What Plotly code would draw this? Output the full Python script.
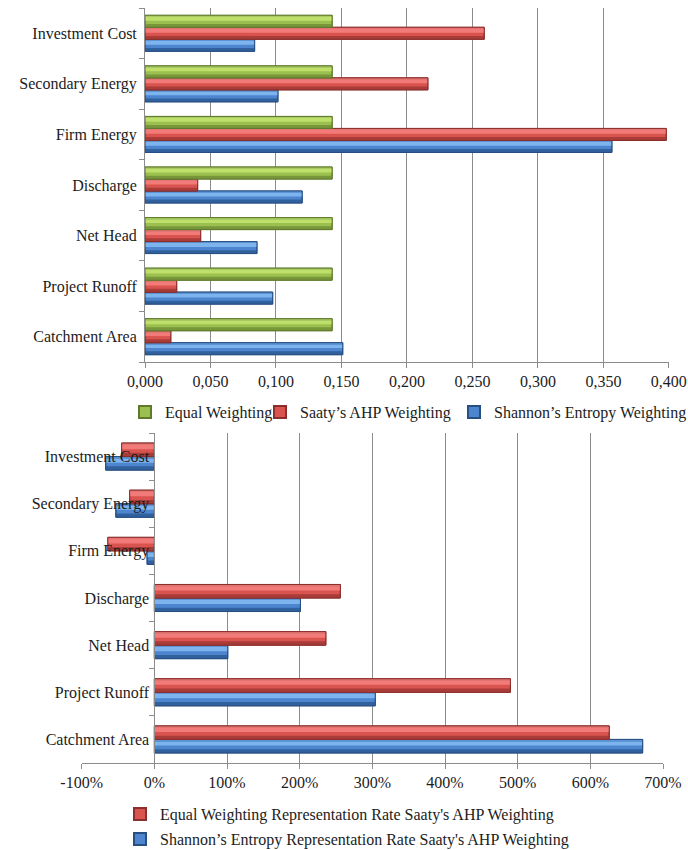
import plotly.graph_objects as go

# Criteria, listed bottom to top as they appear on the category axes
categories = ["Catchment Area", "Project Runoff", "Net Head", "Discharge",
              "Firm Energy", "Secondary Energy", "Investment Cost"]

# Criterion weights
equal_weighting = [0.1429, 0.1429, 0.1429, 0.1429, 0.1429, 0.1429, 0.1429]
saaty_ahp_weighting = [0.0197, 0.0242, 0.0425, 0.0402, 0.3980, 0.2160, 0.2590]
shannon_entropy_weighting = [0.1510, 0.0975, 0.0855, 0.1200, 0.3565, 0.1015, 0.0837]

# Representation rates relative to Saaty's AHP weighting (percent)
equal_rep_rate = [626, 490, 236, 256, -64, -34, -45]
shannon_rep_rate = [672, 304, 101, 201, -10, -53, -67]

# Tick labels
top_tick_vals = [0, 0.05, 0.10, 0.15, 0.20, 0.25, 0.30, 0.35, 0.40]
top_tick_text = ["0,000", "0,050", "0,100", "0,150", "0,200", "0,250", "0,300", "0,350", "0,400"]
bottom_tick_vals = [-100, 0, 100, 200, 300, 400, 500, 600, 700]
bottom_tick_text = ["-100%", "0%", "100%", "200%", "300%", "400%", "500%", "600%", "700%"]

# Bevel-like shading: (top highlight, light, mid, dark, outline)
GREEN = ("#a9c964", "#bedf6a", "#9cc04f", "#78963a", "#5f7a2c")
RED = ("#e27572", "#f27a78", "#d9534f", "#a93c39", "#8a2f2d")
BLUE = ("#5d94d6", "#7db4ee", "#4d86cf", "#30609e", "#284f82")

FONT = "Liberation Serif"
TEXT = "#1c1c1c"
GRID = "#8c8c8c"

W, H = 688, 850
fig = go.Figure()


def add_series(values, xaxis, yaxis, offset, width, shades, name, legend):
    """Draw one bar series as stacked shading bands plus an outline."""
    top_hl, light, mid, dark, outline = shades
    common = dict(x=values, y=categories, orientation="h",
                  xaxis=xaxis, yaxis=yaxis, hoverinfo="skip")
    # base fill (carries the legend entry)
    fig.add_trace(go.Bar(**common, name=name, legend=legend, showlegend=True,
                         offset=offset, width=width,
                         marker=dict(color=mid, line=dict(color=outline, width=1))))
    bands = [(0.0, 0.28, dark), (0.55, 0.33, light), (0.88, 0.12, top_hl)]
    for start, frac, col in bands:
        fig.add_trace(go.Bar(**common, showlegend=False,
                             offset=offset + width * start, width=width * frac,
                             marker=dict(color=col, line=dict(width=0))))
    # outline on top
    fig.add_trace(go.Bar(**common, showlegend=False, offset=offset, width=width,
                         marker=dict(color="rgba(0,0,0,0)",
                                     line=dict(color=outline, width=1))))


# Top chart: weights (blue lowest in each group, green on top)
bw = 0.237
add_series(shannon_entropy_weighting, "x", "y", -1.5 * bw, bw, BLUE,
           "Shannon\u2019s Entropy Weighting", "legend3")
add_series(saaty_ahp_weighting, "x", "y", -0.5 * bw, bw, RED,
           "Saaty\u2019s AHP Weighting", "legend2")
add_series(equal_weighting, "x", "y", 0.5 * bw, bw, GREEN,
           "Equal Weighting", "legend")

# Bottom chart: representation rates
bw2 = 0.287
add_series(shannon_rep_rate, "x2", "y2", -bw2, bw2, BLUE,
           "Shannon\u2019s Entropy Representation Rate Saaty's AHP Weighting", "legend5")
add_series(equal_rep_rate, "x2", "y2", 0.0, bw2, RED,
           "Equal Weighting Representation Rate Saaty's AHP Weighting", "legend4")

tick_font = dict(family=FONT, size=16, color=TEXT)

top_dom_x = [145 / W, 669 / W]
top_dom_y = [1 - 362 / H, 1 - 8 / H]
bot_range = [-100, 700]
bot_dom_x = [81.7 / W, 663 / W]
bot_dom_y = [1 - 763 / H, 1 - 433 / H]
# vertical axis of the lower chart sits at the 0% position
zero_pos = bot_dom_x[0] + (0 - bot_range[0]) / (bot_range[1] - bot_range[0]) * (bot_dom_x[1] - bot_dom_x[0])

legend_base = dict(font=dict(family=FONT, size=16, color=TEXT), bgcolor="rgba(0,0,0,0)",
                   borderwidth=0, orientation="h", xanchor="left", yanchor="middle",
                   itemsizing="constant")
LEG_OFF = 40  # distance from legend box edge to the start of its text

axis_common = dict(tickfont=tick_font, zeroline=False, automargin=False,
                   showline=True, linecolor=GRID, linewidth=1,
                   ticks="outside", ticklen=5, tickcolor=GRID)

fig.update_layout(
    width=W, height=H,
    margin=dict(l=0, r=0, t=0, b=0, autoexpand=False),
    paper_bgcolor="white", plot_bgcolor="white",
    barmode="overlay",
    font=dict(family=FONT, size=16, color=TEXT),
    xaxis=dict(axis_common, domain=top_dom_x, anchor="y", range=[0, 0.4001],
               tickvals=top_tick_vals, ticktext=top_tick_text,
               showgrid=True, gridcolor=GRID, gridwidth=1),
    yaxis=dict(axis_common, domain=top_dom_y, anchor="x", type="category",
               categoryorder="array", categoryarray=categories,
               showgrid=False, tickson="boundaries", ticklabelstandoff=4),
    xaxis2=dict(axis_common, domain=bot_dom_x, anchor="y2", range=bot_range,
                tickvals=bottom_tick_vals, ticktext=bottom_tick_text,
                showgrid=True, gridcolor=GRID, gridwidth=1),
    yaxis2=dict(axis_common, domain=bot_dom_y, anchor="free", position=zero_pos,
                type="category", categoryorder="array", categoryarray=categories,
                showgrid=False, tickson="boundaries", ticklabelstandoff=2),
    legend=dict(legend_base, x=(165 - LEG_OFF) / W, y=1 - 412 / H),
    legend2=dict(legend_base, x=(300 - LEG_OFF) / W, y=1 - 412 / H),
    legend3=dict(legend_base, x=(494 - LEG_OFF) / W, y=1 - 412 / H),
    legend4=dict(legend_base, x=(160 - LEG_OFF) / W, y=1 - 814 / H),
    legend5=dict(legend_base, x=(160 - LEG_OFF) / W, y=1 - 839 / H),
)

fig.write_html("out.html")
